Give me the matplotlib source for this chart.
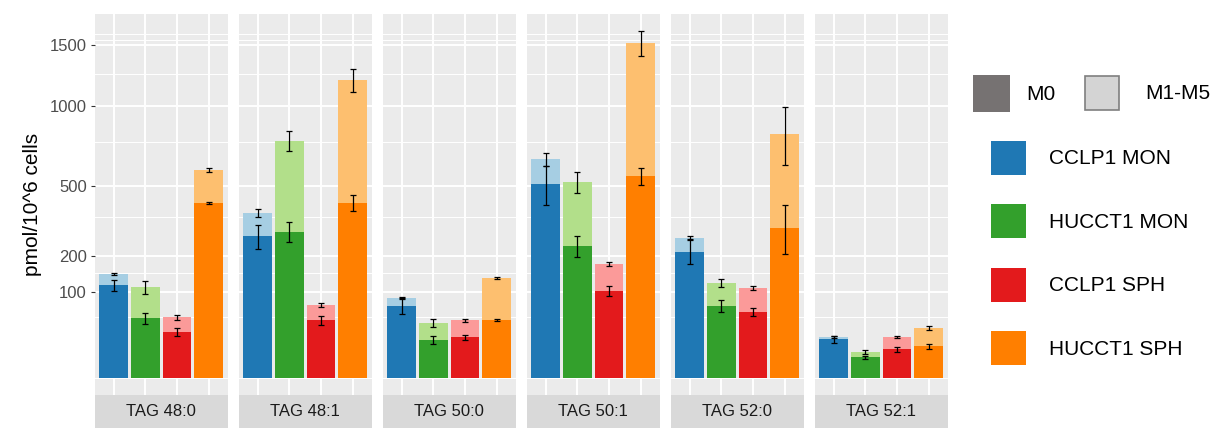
import numpy as np
import matplotlib.pyplot as plt
from matplotlib.patches import Patch

plt.rcParams['font.family'] = ['Liberation Sans', 'DejaVu Sans']

lipids = ["TAG 48:0", "TAG 48:1", "TAG 50:0", "TAG 50:1", "TAG 52:0", "TAG 52:1"]
groups = ["CCLP1 MON", "HUCCT1 MON", "CCLP1 SPH", "HUCCT1 SPH"]
dark_colors = ["#1F78B4", "#33A02C", "#E31A1C", "#FF7F00"]
light_colors = ["#A6CEE3", "#B2DF8A", "#FB9A99", "#FDBF6F"]

# unlabelled (M0) amount per lipid, one value per group
m0 = [[116, 48, 28.7, 414],
      [271, 289, 44.6, 414],
      [69.7, 19.6, 22.1, 45.1],
      [507, 235, 102.6, 550],
      [215, 69.7, 58.5, 304],
      [20, 5.6, 10.9, 13.4]]
m0_err = [[14, 9, 5.4, 5],
          [46, 40, 7, 36],
          [14, 3.8, 2.7, 1],
          [103, 37, 12.5, 48],
          [41, 11.6, 6.5, 98],
          [3.5, 1, 2, 2]]
# M0 + M1-M5 total
total = [[145, 111, 49.4, 586],
         [369, 761, 71.6, 1201],
         [86.7, 41, 44.6, 134],
         [646, 519, 175, 1515],
         [266, 122, 109, 805],
         [22.5, 9, 22.8, 33.1]]
total_err = [[3, 15.5, 3.6, 10],
             [18, 63, 4.5, 93],
             [1.5, 6, 2.5, 2.5],
             [37, 56, 7, 115],
             [6, 11, 4, 191],
             [1, 1.5, 1, 2.7]]

major = [100, 200, 500, 1000, 1500]
minor = [0, 50, 150, 350, 750, 1250, 1550, 1600]


def fwd(v):
    return np.sign(v) * np.sqrt(np.abs(v))


def inv(v):
    return np.sign(v) * v ** 2


W, H = 1224, 433
fig = plt.figure(figsize=(W / 100, H / 100), dpi=100)
x = np.arange(len(groups))

for i, lipid in enumerate(lipids):
    left = 94.5 + i * 144
    ax = fig.add_axes([left / W, (H - 395) / H, 133.3 / W, 381 / H])
    ax.set_facecolor('#EBEBEB')
    ax.set_yscale('function', functions=(fwd, inv))
    ax.set_ylim(-4.04, 1792.7)
    ax.set_xlim(-0.6, 3.6)

    ax.bar(x, total[i], width=0.9, color=light_colors, zorder=2)
    ax.bar(x, m0[i], width=0.9, color=dark_colors, zorder=2)
    ax.errorbar(x, total[i], yerr=total_err[i], fmt='none', ecolor='black',
                elinewidth=0.9, capsize=2, capthick=0.9, zorder=3)
    ax.errorbar(x, m0[i], yerr=m0_err[i], fmt='none', ecolor='black',
                elinewidth=0.9, capsize=2, capthick=0.9, zorder=3)

    ax.set_xticks(x)
    ax.set_yticks(major)
    ax.set_yticks(minor, minor=True)
    ax.grid(which='major', color='white', linewidth=1.4, zorder=0)
    ax.grid(which='minor', axis='y', color='white', linewidth=0.7, zorder=0)
    ax.set_axisbelow(True)
    for s in ax.spines.values():
        s.set_visible(False)
    ax.tick_params(axis='x', bottom=False, labelbottom=False)
    ax.tick_params(axis='y', which='minor', left=False)
    if i == 0:
        ax.set_yticklabels([str(v) for v in major])
        ax.tick_params(axis='y', length=3, width=0.8, color='#333333',
                       labelcolor='#4D4D4D', labelsize=12, pad=2.5)
    else:
        ax.tick_params(axis='y', left=False, labelleft=False)

    # facet strip underneath the panel
    sax = fig.add_axes([left / W, (H - 428) / H, 133.3 / W, 33 / H])
    sax.set_facecolor('#D9D9D9')
    sax.set_xticks([])
    sax.set_yticks([])
    for s in sax.spines.values():
        s.set_visible(False)
    sax.text(0.5, 0.5, lipid, ha='center', va='center', fontsize=12,
             color='#1A1A1A', transform=sax.transAxes)

fig.text(33 / W, 1 - 204.5 / H, "pmol/10^6 cells", rotation=90,
         ha='center', va='center', fontsize=15)

# isotopologue legend (two keys side by side)
fig.legend(handles=[Patch(facecolor='#767272', edgecolor='none')], labels=['M0'],
           loc='upper left', bbox_to_anchor=(973 / W, 1 - 75 / H), frameon=False,
           fontsize=15, handlelength=1.78, handleheight=2.35, handletextpad=0.77,
           borderpad=0, borderaxespad=0)
fig.legend(handles=[Patch(facecolor='#D4D4D4', edgecolor='#7F7F7F', linewidth=1.2)],
           labels=['M1-M5'], loc='upper left', bbox_to_anchor=(1085 / W, 1 - 76 / H),
           frameon=False, fontsize=15, handlelength=1.63, handleheight=2.1,
           handletextpad=1.25, borderpad=0, borderaxespad=0)

fig.legend(handles=[Patch(facecolor=c, edgecolor='none') for c in dark_colors],
           labels=groups, loc='upper left',
           bbox_to_anchor=(991 / W, 1 - 141 / H), frameon=False, fontsize=15,
           handlelength=1.68, handleheight=2.12, handletextpad=1.1,
           labelspacing=1.42, borderpad=0, borderaxespad=0)

fig.savefig('out.png', dpi=100)
